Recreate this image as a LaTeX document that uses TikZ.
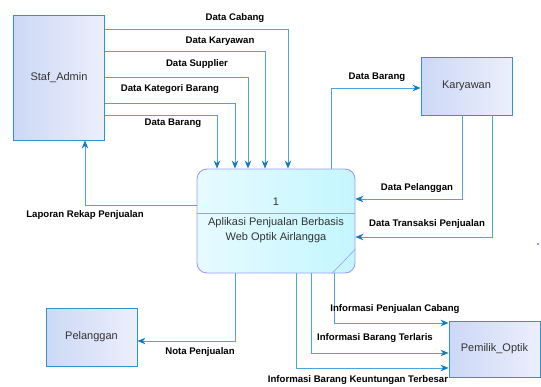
\documentclass[tikz,border=0pt]{standalone}
\usepackage{fontspec}
\setmainfont{Liberation Sans}
\usepackage{tikz}
\usetikzlibrary{calc,arrows.meta}

\definecolor{flowblue}{HTML}{4AA6DC}
\definecolor{tipblue}{HTML}{1479BE}
\definecolor{entline}{HTML}{3192D2}
\definecolor{entL}{HTML}{CCD8F6}
\definecolor{entR}{HTML}{ECEFFC}
\definecolor{procline}{HTML}{9C9CF4}
\definecolor{procL}{HTML}{E6FBFF}
\definecolor{procR}{HTML}{C4F6FF}
\definecolor{txtgray}{HTML}{333333}

\tikzset{
  entity/.style={draw=entline,line width=0.9pt,left color=entL,right color=entR,
    minimum width=91pt,minimum height=58pt,inner sep=0pt,
    font=\fontsize{11}{13}\selectfont,text=txtgray},
  flow/.style={draw=flowblue,line width=0.8pt,->},
  lbl/.style={font=\bfseries\fontsize{9.6}{11}\selectfont,inner sep=0pt},
}

\begin{document}
\begin{tikzpicture}[x=1pt,y=-1pt,>={Stealth[length=8pt,width=6.5pt,color=tipblue]}]
			\useasboundingbox (0,0) rectangle (541,386);
			
			% entitas luar
			\node[entity,minimum height=125pt] (staf) at (59,77.5) {Staf\_Admin};
			\node[entity] (kary) at (466.5,86) {Karyawan};
			\node[entity] (pel) at (91.5,337) {Pelanggan};
			\node[entity,minimum height=56pt] (pem) at (494.5,349) {Pemilik\_Optik};
			
			% proses
			\node[draw=procline,line width=0.9pt,rounded corners=10pt,left color=procL,right color=procR,
			minimum width=158pt,minimum height=104pt] (proc) at (276,221) {};
			\draw[procline,line width=0.9pt] (proc.west |- 0,213) -- (proc.east |- 0,213);
			\draw[procline,line width=0.6pt] (proc.south -| 332,0) -- (proc.east |- 0,249);
			\node[font=\fontsize{11}{13}\selectfont,text=txtgray] (pnum) at (276,202) {1};
			\node[font=\fontsize{11}{15}\selectfont,text=txtgray,align=center] (ptext) at (276,230)
			{Aplikasi Penjualan Berbasis\\Web Optik Airlangga};
			\fill[procline] (537,243) rectangle (539,245);
			
			% Staf_Admin -> proses
			\draw[flow] (staf.east |- 0,29) -| (proc.north -| 288,0);
			\draw[flow] (staf.east |- 0,51) -| (proc.north -| 265,0);
			\draw[flow] (staf.east |- 0,77) -| (proc.north -| 248,0);
			\draw[flow] (staf.east |- 0,103) -| (proc.north -| 235,0);
			\draw[flow] (staf.east |- 0,115) -| (proc.north -| 217,0);
			\node[lbl] (lcab) at (235,18) {Data Cabang};
			\node[lbl] (lkar) at (220,41) {Data Karyawan};
			\node[lbl] (lsup) at (197,64) {Data Supplier};
			\node[lbl] (lkat) at (170,89) {Data Kategori Barang};
			\node[lbl] (lbrg) at (173,123) {Data Barang};
			
			% proses -> Staf_Admin
			\draw[flow] (proc.west |- 0,205) -| (staf.south -| 85,0);
			\node[lbl] (llap) at (85,215) {Laporan Rekap Penjualan};
			
			% proses <-> Karyawan
			\draw[flow] (proc.north -| 331,0) |- (kary.west |- 0,88);
			\node[lbl] (lbrg2) at (377,77) {Data Barang};
			\draw[flow] (kary.south -| 462,0) |- (proc.east |- 0,199);
			\node[lbl] (lpel) at (417,188) {Data Pelanggan};
			\draw[flow] (kary.south -| 492,0) |- (proc.east |- 0,237);
			\node[lbl] (ltrx) at (427,224) {Data Transaksi Penjualan};
			
			% proses -> Pelanggan
			\draw[flow] (proc.south -| 235,0) |- (pel.east |- 0,341);
			\node[lbl] (lnota) at (200,352) {Nota Penjualan};
			
			% proses -> Pemilik_Optik
			\draw[flow] (proc.south -| 334,0) |- (pem.west |- 0,323);
			\draw[flow] (proc.south -| 311,0) |- (pem.west |- 0,353);
			\draw[flow] (proc.south -| 296,0) |- (pem.west |- 0,368);
			\node[lbl] (lcab2) at (395,309) {Informasi Penjualan Cabang};
			\node[lbl] (llaris) at (375,338) {Informasi Barang Terlaris};
			\node[lbl] (luntung) at (358,380) {Informasi Barang Keuntungan Terbesar};
		\end{tikzpicture}
\end{document}
